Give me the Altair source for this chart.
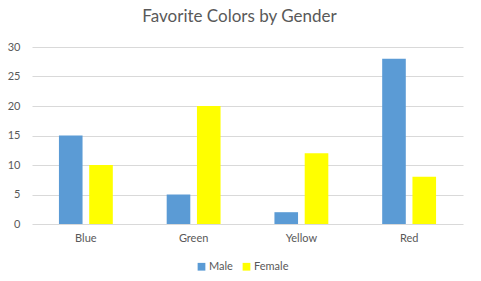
import altair as alt
import pandas as pd

categories = ["Blue", "Green", "Yellow", "Red"]
male = [15, 5, 2, 28]
female = [10, 20, 12, 8]
series = ["Male", "Female"]

rows = []
for c, m, f in zip(categories, male, female):
    rows.append({"Color": c, "Gender": "Male", "Count": m})
    rows.append({"Color": c, "Gender": "Female", "Count": f})
df = pd.DataFrame(rows)

font = "Lato"
grey = "#595959"

chart = alt.Chart(df).mark_bar().encode(
    x=alt.X("Color:N", sort=categories,
            scale=alt.Scale(paddingInner=0.5, paddingOuter=0.25),
            axis=alt.Axis(title=None, labelAngle=0, domain=False, ticks=False, grid=False,
                          labelColor=grey, labelFont=font, labelFontSize=11, labelPadding=8)),
    xOffset=alt.XOffset("Gender:N", sort=series, scale=alt.Scale(paddingInner=0.22)),
    y=alt.Y("Count:Q", scale=alt.Scale(domain=[0, 30]),
            axis=alt.Axis(title=None, values=[0, 5, 10, 15, 20, 25, 30], domain=False, ticks=False,
                          gridColor="#d9d9d9", labelColor=grey, labelFont=font,
                          labelFontSize=11, labelPadding=12)),
    color=alt.Color("Gender:N", sort=series,
                    scale=alt.Scale(domain=series, range=["#5B9BD5", "#FFFF00"]),
                    legend=alt.Legend(title=None, orient="none", direction="horizontal",
                                      legendX=164, legendY=214, symbolType="square",
                                      symbolSize=60, labelColor=grey, labelFont=font,
                                      labelFontSize=11, columnPadding=8, labelOffset=2)),
).properties(
    width=431, height=177,
    background="white",
    title=alt.TitleParams("Favorite Colors by Gender", font=font, fontSize=17,
                          fontWeight="normal", color=grey, offset=15, dx=-8),
    autosize=alt.AutoSizeParams(type="none"),
    padding={"left": 32, "top": 47, "right": 18, "bottom": 57},
).configure_view(strokeWidth=0)

chart.save("out.html", embed_options={"renderer": "svg", "actions": False})
